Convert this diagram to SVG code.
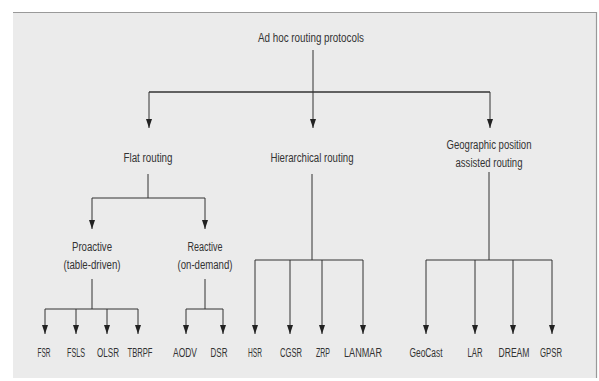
<svg xmlns="http://www.w3.org/2000/svg" width="599" height="381" viewBox="0 0 599 381">
<defs>
<marker id="ah" viewBox="0 0 9 6" refX="9" refY="3" markerWidth="9" markerHeight="6" markerUnits="userSpaceOnUse" orient="auto">
<path d="M0,0 L9,3 L0,6 Z" fill="#222"/>
</marker>
<style>
text{font-family:"Liberation Sans",Arial,sans-serif;font-size:12px;fill:#333;text-anchor:middle}
.c path{fill:none;stroke:#333;stroke-width:1}
.c .a{marker-end:url(#ah)}
</style>
</defs>
<rect width="599" height="381" fill="#fff"/>
<rect x="13" y="12" width="583" height="366" fill="#ebebeb"/>
<line x1="13" y1="12.5" x2="596" y2="12.5" stroke="#999" stroke-width="1.2"/>
<line x1="596.5" y1="12" x2="596.5" y2="378" stroke="#999" stroke-width="1.2"/>
<g class="c" id="connectors">
<path d="M313,50 V92"/>
<path d="M149,92 H490" style="stroke-width:1.6"/>
<path class="a" d="M149,92 V128"/>
<path class="a" d="M313,92 V128"/>
<path class="a" d="M490,92 V128"/>
<path d="M148,174 V198 M92,198 H205"/>
<path class="a" d="M92,198 V229"/>
<path class="a" d="M205,198 V229"/>
<path d="M92,279 V309 M45,309 H138"/>
<path class="a" d="M45,309 V334"/>
<path class="a" d="M76,309 V334"/>
<path class="a" d="M107,309 V334"/>
<path class="a" d="M138,309 V334"/>
<path d="M205,279 V309 M186,309 H223"/>
<path class="a" d="M186,309 V334"/>
<path class="a" d="M223,309 V334"/>
<path d="M312,174 V260 M255,260 H363"/>
<path class="a" d="M255,260 V334"/>
<path class="a" d="M290,260 V334"/>
<path class="a" d="M322,260 V334"/>
<path class="a" d="M363,260 V334"/>
<path d="M489,172 V260 M426,260 H552"/>
<path class="a" d="M426,260 V334"/>
<path class="a" d="M475,260 V334"/>
<path class="a" d="M513,260 V334"/>
<path class="a" d="M552,260 V334"/>
</g>
<g id="root"><text x="311" y="42" textLength="106" lengthAdjust="spacingAndGlyphs">Ad hoc routing protocols</text></g>
<g id="flat"><text x="148" y="162" textLength="49" lengthAdjust="spacingAndGlyphs">Flat routing</text></g>
<g id="hier"><text x="312" y="162" textLength="83" lengthAdjust="spacingAndGlyphs">Hierarchical routing</text></g>
<g id="geo"><text x="489" y="149" textLength="85" lengthAdjust="spacingAndGlyphs">Geographic position</text><text x="489" y="167" textLength="67" lengthAdjust="spacingAndGlyphs">assisted routing</text></g>
<g id="proactive"><text x="92" y="251" textLength="40" lengthAdjust="spacingAndGlyphs">Proactive</text><text x="92" y="269" textLength="57" lengthAdjust="spacingAndGlyphs">(table-driven)</text></g>
<g id="reactive"><text x="205" y="251" textLength="35" lengthAdjust="spacingAndGlyphs">Reactive</text><text x="205" y="269" textLength="55" lengthAdjust="spacingAndGlyphs">(on-demand)</text></g>
<g id="fsr"><text x="44" y="357" textLength="13" lengthAdjust="spacingAndGlyphs">FSR</text></g>
<g id="fsls"><text x="76" y="357" textLength="18" lengthAdjust="spacingAndGlyphs">FSLS</text></g>
<g id="olsr"><text x="108" y="357" textLength="22" lengthAdjust="spacingAndGlyphs">OLSR</text></g>
<g id="tbrpf"><text x="140" y="357" textLength="25" lengthAdjust="spacingAndGlyphs">TBRPF</text></g>
<g id="aodv"><text x="185" y="357" textLength="24" lengthAdjust="spacingAndGlyphs">AODV</text></g>
<g id="dsr"><text x="219" y="357" textLength="17" lengthAdjust="spacingAndGlyphs">DSR</text></g>
<g id="hsr"><text x="255" y="357" textLength="14" lengthAdjust="spacingAndGlyphs">HSR</text></g>
<g id="cgsr"><text x="291" y="357" textLength="22" lengthAdjust="spacingAndGlyphs">CGSR</text></g>
<g id="zrp"><text x="323" y="357" textLength="14" lengthAdjust="spacingAndGlyphs">ZRP</text></g>
<g id="lanmar"><text x="363" y="357" textLength="38" lengthAdjust="spacingAndGlyphs">LANMAR</text></g>
<g id="geocast"><text x="426" y="357" textLength="33" lengthAdjust="spacingAndGlyphs">GeoCast</text></g>
<g id="lar"><text x="475" y="357" textLength="15" lengthAdjust="spacingAndGlyphs">LAR</text></g>
<g id="dream"><text x="514" y="357" textLength="31" lengthAdjust="spacingAndGlyphs">DREAM</text></g>
<g id="gpsr"><text x="551" y="357" textLength="22" lengthAdjust="spacingAndGlyphs">GPSR</text></g>
</svg>
